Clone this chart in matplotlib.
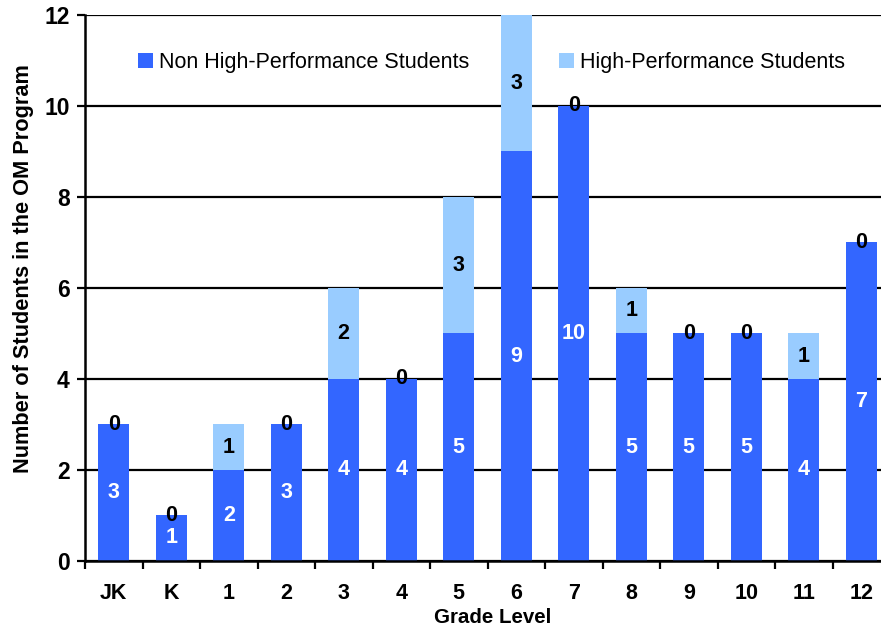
import matplotlib.pyplot as plt
import numpy as np

plt.rcParams['font.family'] = ['Liberation Sans', 'DejaVu Sans']

grades = ["JK", "K", "1", "2", "3", "4", "5", "6", "7", "8", "9", "10", "11", "12"]
non_high = [3, 1, 2, 3, 4, 4, 5, 9, 10, 5, 5, 5, 4, 7]
high = [0, 0, 1, 0, 2, 0, 3, 3, 0, 1, 0, 0, 1, 0]

dark = "#3366FF"
light = "#99CCFF"

W, H = 881, 629
fig = plt.figure(figsize=(W / 100, H / 100), dpi=100)
left, right, top, bottom = 85, 890, 15, 560.7
ax = fig.add_axes([left / W, 1 - bottom / H, (right - left) / W, (bottom - top) / H])

x = np.arange(len(grades))
bw = 0.54
ax.bar(x, non_high, width=bw, color=dark, zorder=3, label="Non High-Performance Students")
ax.bar(x, high, width=bw, bottom=non_high, color=light, zorder=3, label="High-Performance Students")

for xi, n, h in zip(x, non_high, high):
    ax.text(xi, n / 2, str(n), ha="center", va="center", color="white",
            fontsize=15.5, fontweight="bold", zorder=5)
    ax.text(xi, n + h / 2, str(h), ha="center", va="center", color="black",
            fontsize=15.5, fontweight="bold", zorder=5)

ax.set_xlim(-0.5, len(grades) - 0.5)
ax.set_ylim(0, 12)
ax.set_yticks(np.arange(0, 13, 2))
ax.yaxis.grid(True, color="black", linewidth=1.6, zorder=1)
ax.set_axisbelow(True)

ax.set_xticks(x)
ax.set_xticklabels(grades, fontsize=15.5, fontweight="bold")
ax.set_xticks(np.arange(-0.5, len(grades), 1), minor=True)
ax.tick_params(axis="x", which="major", length=0, pad=16)
ax.tick_params(axis="x", which="minor", length=6, width=1.6, direction="out")
ax.tick_params(axis="y", length=6, width=1.6, direction="out", labelsize=16.5, pad=5)
for lab in ax.get_yticklabels():
    lab.set_fontweight("bold")

for s in ["top", "right"]:
    ax.spines[s].set_visible(False)
for s in ["left", "bottom"]:
    ax.spines[s].set_linewidth(1.8)
    ax.spines[s].set_zorder(4)

ax.set_xlabel("Grade Level", fontsize=14.8, fontweight="bold")
ax.xaxis.set_label_coords(0.506, -0.087)
ax.set_ylabel("Number of Students in the OM Program", fontsize=15.7, fontweight="bold")
ax.yaxis.set_label_coords(-0.0635, 0.535)

ax.legend(loc="upper left", bbox_to_anchor=(0.042, 0.968), ncol=2, frameon=False,
          fontsize=15.5, handlelength=0.68, handleheight=0.68, handletextpad=0.3,
          columnspacing=4.15)

fig.savefig("out.png", dpi=100)
